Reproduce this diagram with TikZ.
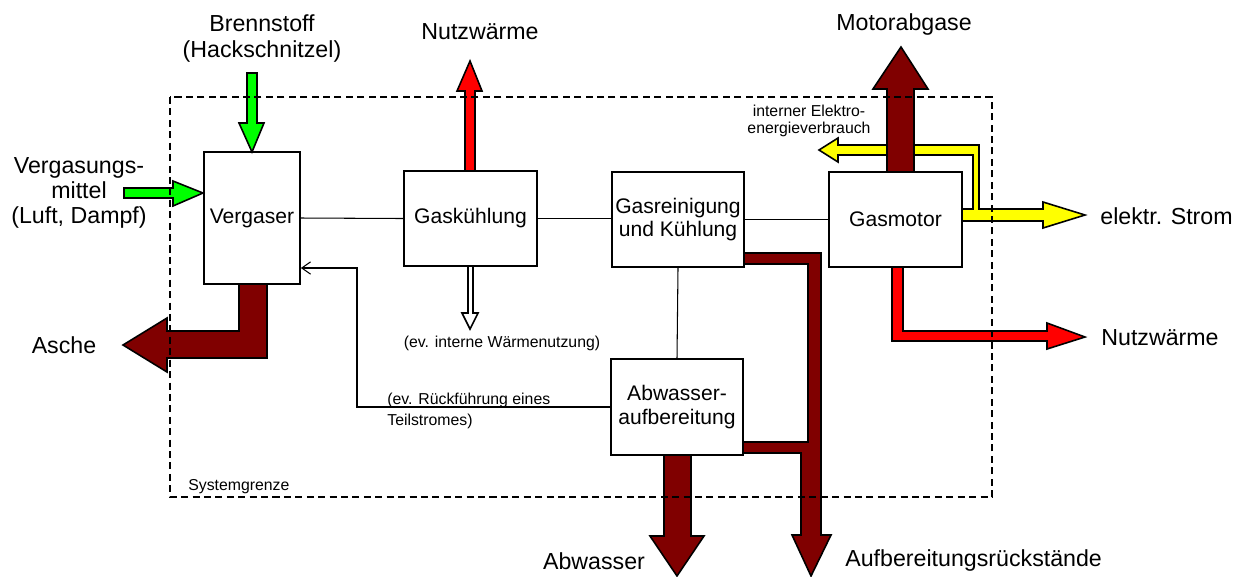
\documentclass[tikz,border=0pt]{standalone}
\usepackage{fontspec}
\setmainfont{Liberation Sans}
\usetikzlibrary{arrows.meta}
\definecolor{flowgreen}{RGB}{0,255,0}
\definecolor{flowred}{RGB}{255,0,0}
\definecolor{flowdark}{RGB}{128,0,0}
\definecolor{flowyellow}{RGB}{255,255,0}

\begin{document}
\begin{tikzpicture}[
    x=0.02cm, y=-0.02cm,
    unit/.style={draw=black, line width=1pt, fill=white, align=center,
                 inner sep=2pt, font=\fontsize{12}{13.6}\selectfont},
    bigtext/.style={align=center, inner sep=0pt, font=\fontsize{13.2}{15.3}\selectfont},
    smalltext/.style={align=center, inner sep=0pt, font=\fontsize{9}{12}\selectfont},
    conn/.style={draw=black, line width=0.6pt},
    fat/.style={draw=black, line width=0.9pt, line join=miter},
    border/.style={draw=black, line width=0.8pt, dash pattern=on 4pt off 2.5pt},
]
\useasboundingbox (0,0) rectangle (1239,576);

% --- process units ---
\node[unit, minimum width=1.92cm, minimum height=2.64cm] (verg)  at (252,218)   {Vergaser};
\node[unit, minimum width=2.66cm, minimum height=1.90cm] (gask)  at (470.5,218.5) {Gaskühlung};
\node[unit, minimum width=2.64cm, minimum height=1.90cm] (gasr)  at (678,219.5) {Gasreinigung\\und Kühlung};
\node[unit, minimum width=2.64cm, minimum height=1.92cm] (abw)   at (677,407)   {Abwasser-\\aufbereitung};
\node[unit, minimum width=2.66cm, minimum height=1.90cm] (motor) at (895.5,219.5) {Gasmotor};

% --- gas path and feedback ---
\draw[conn] (verg.east) -- (gask.west);
\draw[conn] (gask.east) -- (gask.east -| gasr.west);
\draw[conn] (gasr.east) -- (gasr.east -| motor.west);
\draw[conn] (gasr.south) -- (abw.north);
\coordinate (ret) at (357,268);
\draw[conn, -{Straight Barb[length=5pt,width=7pt]}] (abw.west) -| (ret) -- (ret -| verg.east);

% --- inputs (green) ---
\fill[fat, fill=flowgreen] (247,73) -- (257,73) -- (257,123) -- (264,123) -- (252,152)
  -- (239,123) -- (247,123) -- cycle;
\fill[fat, fill=flowgreen] (124,188) -- (173,188) -- (173,181) -- (203,193) -- (173,206)
  -- (173,198) -- (124,198) -- cycle;

% --- heat (red) ---
\fill[fat, fill=flowred] (465,171) -- (465,91) -- (457,91) -- (470,61) -- (482,91)
  -- (475,91) -- (475,171) -- cycle;
\fill[fat, fill=flowred] (892,267) -- (903,267) -- (903,331) -- (1047,331) -- (1047,323)
  -- (1085,337) -- (1047,349) -- (1047,341) -- (892,341) -- cycle;
\fill[fat, fill=white] (468,266) -- (468,313) -- (462,313) -- (470,329) -- (478,313)
  -- (473,313) -- (473,266) -- cycle;

% --- electricity (yellow) ---
\fill[fat, fill=flowyellow] (962,221) -- (1043,221) -- (1043,228) -- (1085,215) -- (1043,202)
  -- (1043,209) -- (979,209) -- (979,145) -- (838,145) -- (838,138) -- (819,150)
  -- (838,162) -- (838,155) -- (973,155) -- (973,209) -- (962,209) -- cycle;

% --- residues and exhaust (dark red) ---
\fill[fat, fill=flowdark] (887,172) -- (887,89) -- (873,89) -- (901,47) -- (928,89)
  -- (914,89) -- (914,172) -- cycle;
\fill[fat, fill=flowdark] (239,284) -- (267,284) -- (267,358) -- (167,358) -- (167,372)
  -- (123,345) -- (167,318) -- (167,331) -- (239,331) -- cycle;
\fill[fat, fill=flowdark] (664,455) -- (664,536) -- (650,536) -- (677,576) -- (704,536)
  -- (691,536) -- (691,455) -- cycle;
\fill[fat, fill=flowdark] (744,253) -- (821,253) -- (821,535) -- (831,535) -- (811,576)
  -- (792,535) -- (801,535) -- (801,453) -- (743,453) -- (743,442) -- (808,442)
  -- (808,264) -- (744,264) -- cycle;

% --- flow labels ---
\node[bigtext] (brennstoff) at (262,38.5) {Brennstoff\\(Hackschnitzel)};
\node[bigtext, font=\fontsize{13.2}{14.2}\selectfont] (mittel) at (79,193)
  {Vergasungs-\\mittel\\(Luft, Dampf)};
\node[bigtext] (waerme1) at (480,32) {Nutzwärme};
\node[bigtext] (abgas) at (904,24) {Motorabgase};
\node[bigtext, anchor=west] (strom) at (1100,216) {elektr. Strom};
\node[bigtext, anchor=west] (waerme2) at (1101,338) {Nutzwärme};
\node[bigtext] (asche) at (64,345) {Asche};
\node[bigtext] (abwasser) at (594,561) {Abwasser};
\node[bigtext, anchor=west] (rueck) at (845,560) {Aufbereitungsrückstände};

% --- small notes ---
\node[smalltext] (intern) at (502,343) {(ev. interne Wärmenutzung)};
\node[smalltext, align=left, anchor=west] (teil) at (387,410.5)
  {(ev. Rückführung eines\\Teilstromes)};
\node[smalltext, font=\fontsize{9}{9.6}\selectfont] (eigen) at (809,121)
  {interner Elektro-\\energieverbrauch};
\node[smalltext, anchor=west] (grenze) at (188,487) {Systemgrenze};

% --- system boundary ---
\draw[border] (170,97) rectangle (992,497);
\end{tikzpicture}
\end{document}
